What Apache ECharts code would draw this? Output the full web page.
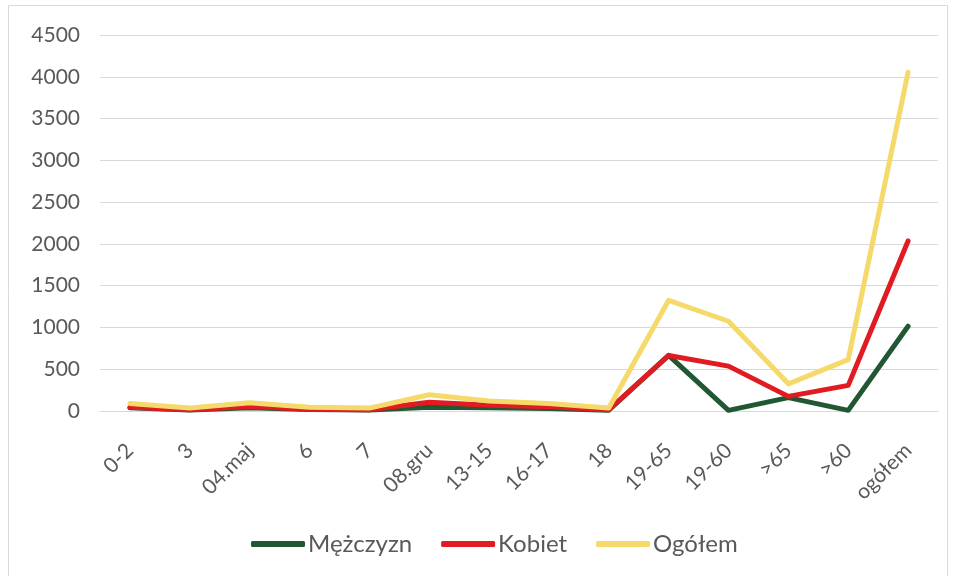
<!DOCTYPE html>
<html><head><meta charset="utf-8">
<script src="https://cdn.jsdelivr.net/npm/echarts@6/dist/echarts.min.js"></script>
<style>html,body{margin:0;padding:0;background:#fff}#c{width:956px;height:576px}</style>
</head><body><div id="c"></div>
<script>
const categories = ['0-2','3','04.maj','6','7','08.gru','13-15','16-17','18','19-65','19-60','>65','>60','ogółem'];
const mezczyzn = [40, 12, 40, 18, 12, 45, 40, 30, 10, 665, 8, 160, 8, 1015];
const kobiet   = [45, 15, 55, 20, 15, 105, 70, 50, 15, 665, 537, 175, 307, 2035];
const ogolem   = [90, 35, 100, 45, 35, 195, 120, 90, 35, 1325, 1074, 325, 615, 4055];
const yTicks = [0, 500, 1000, 1500, 2000, 2500, 3000, 3500, 4000, 4500];

const txt = '#595959';
const chart = echarts.init(document.getElementById('c'), null, {renderer: 'canvas'});
chart.setOption({
  animation: false,
  graphic: [{type: 'rect', shape: {x: 8.5, y: 5.5, width: 939, height: 580}, style: {fill: 'none', stroke: '#d9d9d9', lineWidth: 1}}],
  grid: {left: 100, right: 18, top: 35, bottom: 165},
  legend: {
    bottom: 15, left: 246, itemWidth: 54, itemHeight: 6, itemGap: 29,
    textStyle: {color: txt, fontFamily: 'Lato', fontSize: 24, padding: [0, 0, 0, -2]},
    icon: 'roundRect'
  },
  xAxis: {
    type: 'category', data: categories, boundaryGap: true,
    axisLine: {lineStyle: {color: '#d9d9d9', width: 1}},
    axisTick: {show: false},
    axisLabel: {rotate: 45, color: txt, fontFamily: 'Lato', fontSize: 21, interval: 0, margin: 36}
  },
  yAxis: {
    type: 'value', min: yTicks[0], max: yTicks[yTicks.length - 1], interval: 500,
    axisLine: {show: false}, axisTick: {show: false},
    splitLine: {lineStyle: {color: '#d9d9d9', width: 1}},
    axisLabel: {color: txt, fontFamily: 'Lato', fontSize: 21, margin: 20, formatter: v => String(v)}
  },
  series: [
    {name: 'Mężczyzn', type: 'line', data: mezczyzn, symbol: 'none', lineStyle: {color: '#215732', width: 5, cap: 'round', join: 'round'}, itemStyle: {color: '#215732'}},
    {name: 'Kobiet', type: 'line', data: kobiet, symbol: 'none', lineStyle: {color: '#e01b22', width: 5, cap: 'round', join: 'round'}, itemStyle: {color: '#e01b22'}},
    {name: 'Ogółem', type: 'line', data: ogolem, symbol: 'none', lineStyle: {color: '#f5d96b', width: 5, cap: 'round', join: 'round'}, itemStyle: {color: '#f5d96b'}}
  ]
});
</script></body></html>
